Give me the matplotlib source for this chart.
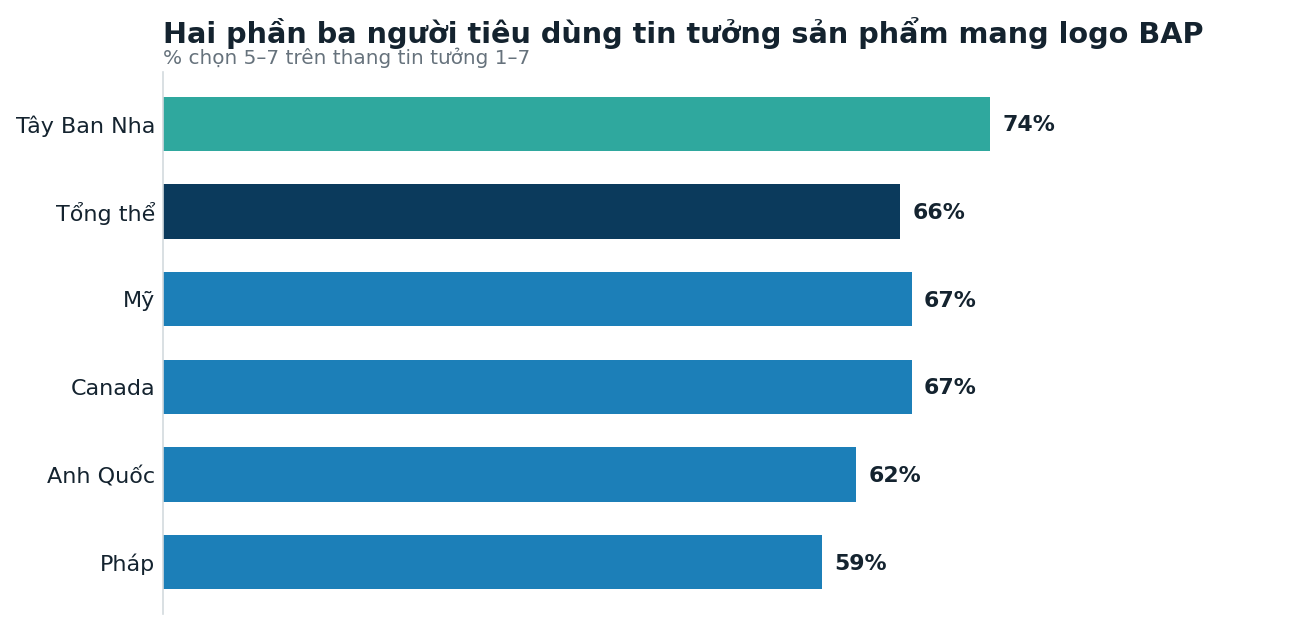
"""Horizontal bar chart: trust in BAP-labelled products by country."""

import matplotlib
matplotlib.use('Agg')
import matplotlib.pyplot as plt  # pylint: disable=wrong-import-position

COUNTRIES = ["Tây Ban Nha", "Tổng thể", "Mỹ", "Canada", "Anh Quốc", "Pháp"]
TRUST_PCT = [74, 66, 67, 67, 62, 59]
BAR_COLORS = ["#2fa89e", "#0b3a5c", "#1c7fb8", "#1c7fb8", "#1c7fb8", "#1c7fb8"]

TEXT_DARK = "#14232f"
TEXT_GREY = "#66727c"


def main():
    plt.rcParams['font.family'] = ['DejaVu Sans']
    fig = plt.figure(figsize=(12.96, 6.3), dpi=100)
    ax = fig.add_axes([0.1258, 0.0254, 0.862, 0.8603])

    ypos = list(range(len(COUNTRIES)))
    ax.barh(ypos, TRUST_PCT, height=0.62, color=BAR_COLORS)
    ax.invert_yaxis()
    ax.set_xlim(0, 100)

    for y, v in zip(ypos, TRUST_PCT):
        ax.annotate(f"{v}%", (v, y), xytext=(9, -1), textcoords="offset points",
                    va='center', ha='left', fontsize=15.8, fontweight='bold',
                    color=TEXT_DARK)

    ax.set_yticks(ypos)
    ax.set_yticklabels(COUNTRIES, fontsize=16, color=TEXT_DARK)
    ax.tick_params(axis='y', length=0, pad=5.5)
    ax.set_xticks([])
    for side in ('top', 'right', 'bottom'):
        ax.spines[side].set_visible(False)
    ax.spines['left'].set_color('#d3dade')
    ax.spines['left'].set_linewidth(1.2)

    fig.text(0.1258, 0.948, "Hai phần ba người tiêu dùng tin tưởng sản phẩm mang logo BAP",
             fontsize=20.7, fontweight='bold', color=TEXT_DARK, va='center', ha='left')
    fig.text(0.1258, 0.909, "% chọn 5–7 trên thang tin tưởng 1–7",
             fontsize=14.4, color=TEXT_GREY, va='center', ha='left')

    fig.savefig("out.png", dpi=100)
    plt.close(fig)


if __name__ == "__main__":
    main()
